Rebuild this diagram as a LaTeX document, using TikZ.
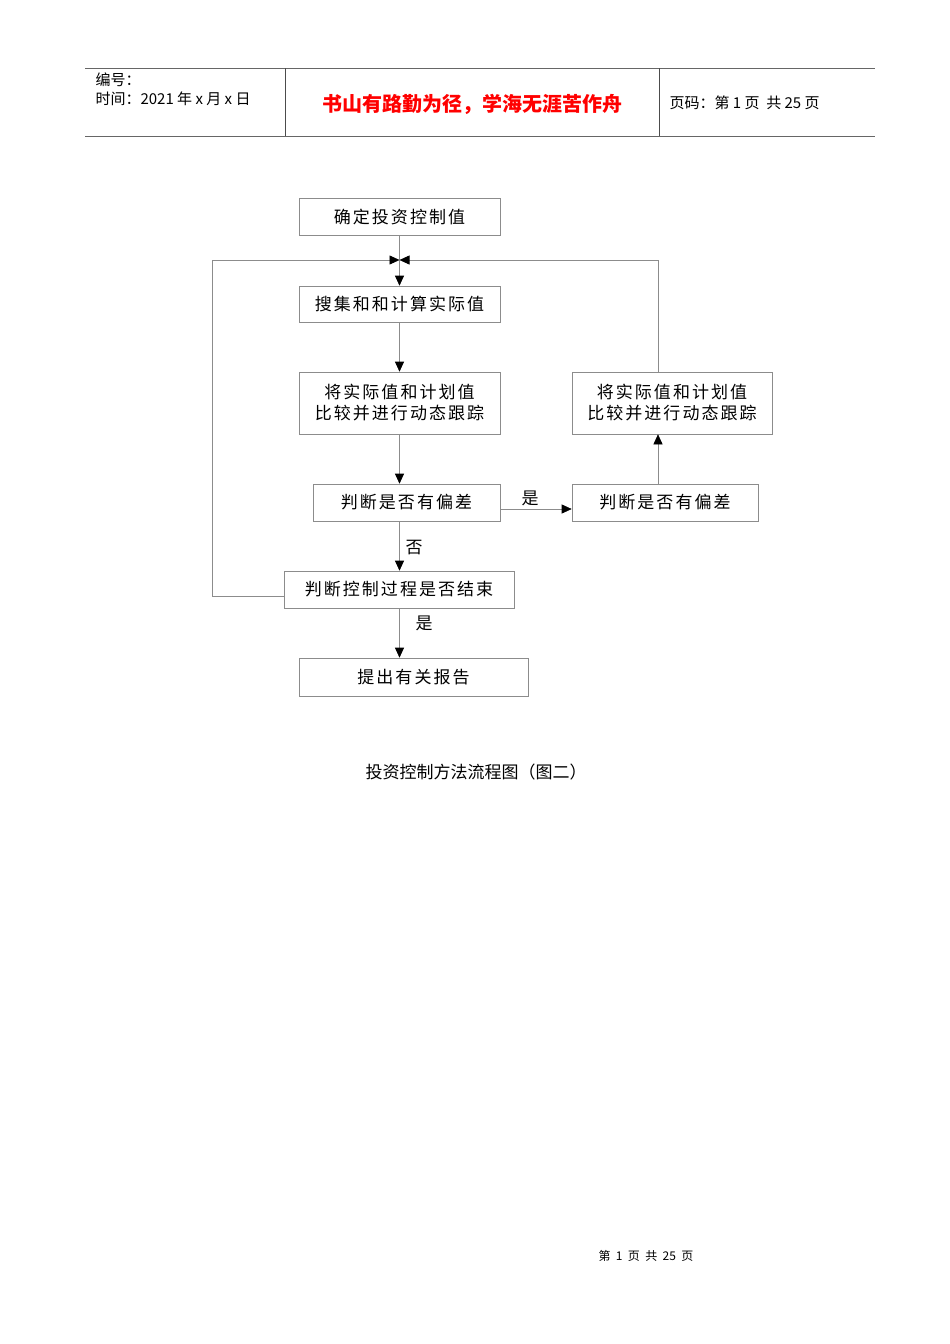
\documentclass[tikz,border=0pt]{standalone}
\usepackage{fontspec}
\setmainfont{Liberation Sans}
\newfontfamily\cjk{Noto Sans CJK SC}
\newfontfamily\cjksp[LetterSpace=12]{Noto Sans CJK SC}
\usetikzlibrary{arrows.meta}
\begin{document}
\begin{tikzpicture}[x=1pt,y=-1pt,
  box/.style={draw=black!45,line width=0.6pt,minimum height=37pt,inner sep=0pt,font=\cjksp\fontsize{17}{21}\selectfont,align=center},
  ln/.style={draw=black!45,line width=0.6pt},
  arr/.style={ln,-{Triangle[length=10pt,width=9pt,fill=black,color=black]}},
  lab/.style={font=\cjk\fontsize{17}{20}\selectfont}]
\useasboundingbox[fill=white] (0,0) rectangle (950,1344);
% header
\draw[line width=1pt,black!60] (85,68) -- (875,68) (85,136) -- (875,136);
\draw[line width=0.8pt,black!70] (285,68) -- (285,136) (659,68) -- (659,136);
\node[anchor=west,font=\cjk\fontsize{15}{18}\selectfont] (h1) at (92,80) {编号：};
\node[anchor=west,font=\cjk\fontsize{15}{18}\selectfont] (h2) at (92,99) {时间：2021 年 x 月 x 日};
\node[font=\cjk\bfseries\fontsize{20}{24}\selectfont,text=red] (h3) at (472,104) {书山有路勤为径，学海无涯苦作舟};
\node[anchor=west,font=\cjk\fontsize{15}{18}\selectfont] (h4) at (666,103) {页码：第 1 页\ \ 共 25 页};
% boxes
\node[box,minimum width=201pt] (A) at (399.5,217) {确定投资控制值};
\node[box,minimum width=201pt,minimum height=36pt] (B) at (399.5,304) {搜集和和计算实际值};
\node[box,minimum width=201pt,minimum height=62pt] (C) at (399.5,403) {将实际值和计划值\\比较并进行动态跟踪};
\node[box,minimum width=187pt] (D) at (406.5,502.5) {判断是否有偏差};
\node[box,minimum width=186pt] (E) at (665,502.5) {判断是否有偏差};
\node[box,minimum width=200pt,minimum height=62pt] (F) at (672,403) {将实际值和计划值\\比较并进行动态跟踪};
\node[box,minimum width=230pt] (G) at (399,589.5) {判断控制过程是否结束};
\node[box,minimum width=229pt,minimum height=38pt] (H) at (413.5,677) {提出有关报告};
\coordinate (J) at (399.5,260);
\coordinate (JL) at (212,260);
\coordinate (JR) at (658,260);
% connectors
\draw[ln] (A.south) -- (J);
\draw[arr] (J) -- (B.south |- B.north);
\draw[arr] (B.south) -- (C.north -| B.south);
\draw[arr] (C.south) -- (C.south |- D.north);
\draw[arr] (D.east |- 0,509) -- (E.west |- 0,509);
\node[lab] (l1) at (530,498) {是};
\draw[arr] (E.north -| JR) -- (F.south -| JR);
\draw[ln] (F.north -| JR) -- (JR);
\draw[arr] (JR) -- (J);
\draw[arr] (C.south |- D.south) -- (C.south |- G.north);
\node[lab] (l2) at (414,548) {否};
\draw[ln] (G.west |- 0,596) -- (212,596) -- (JL);
\draw[arr] (JL) -- (J);
\draw[arr] (C.south |- G.south) -- (C.south |- H.north);
\node[lab] (l3) at (424,623) {是};
\node[font=\cjk\fontsize{17}{20}\selectfont] (cap) at (476,772) {投资控制方法流程图（图二）};
\node[font=\cjk\fontsize{12}{14}\selectfont] (ft) at (646,1256) {第\ \ 1\ \ 页\ \ 共\ \ 25\ \ 页};
\end{tikzpicture}
\end{document}
